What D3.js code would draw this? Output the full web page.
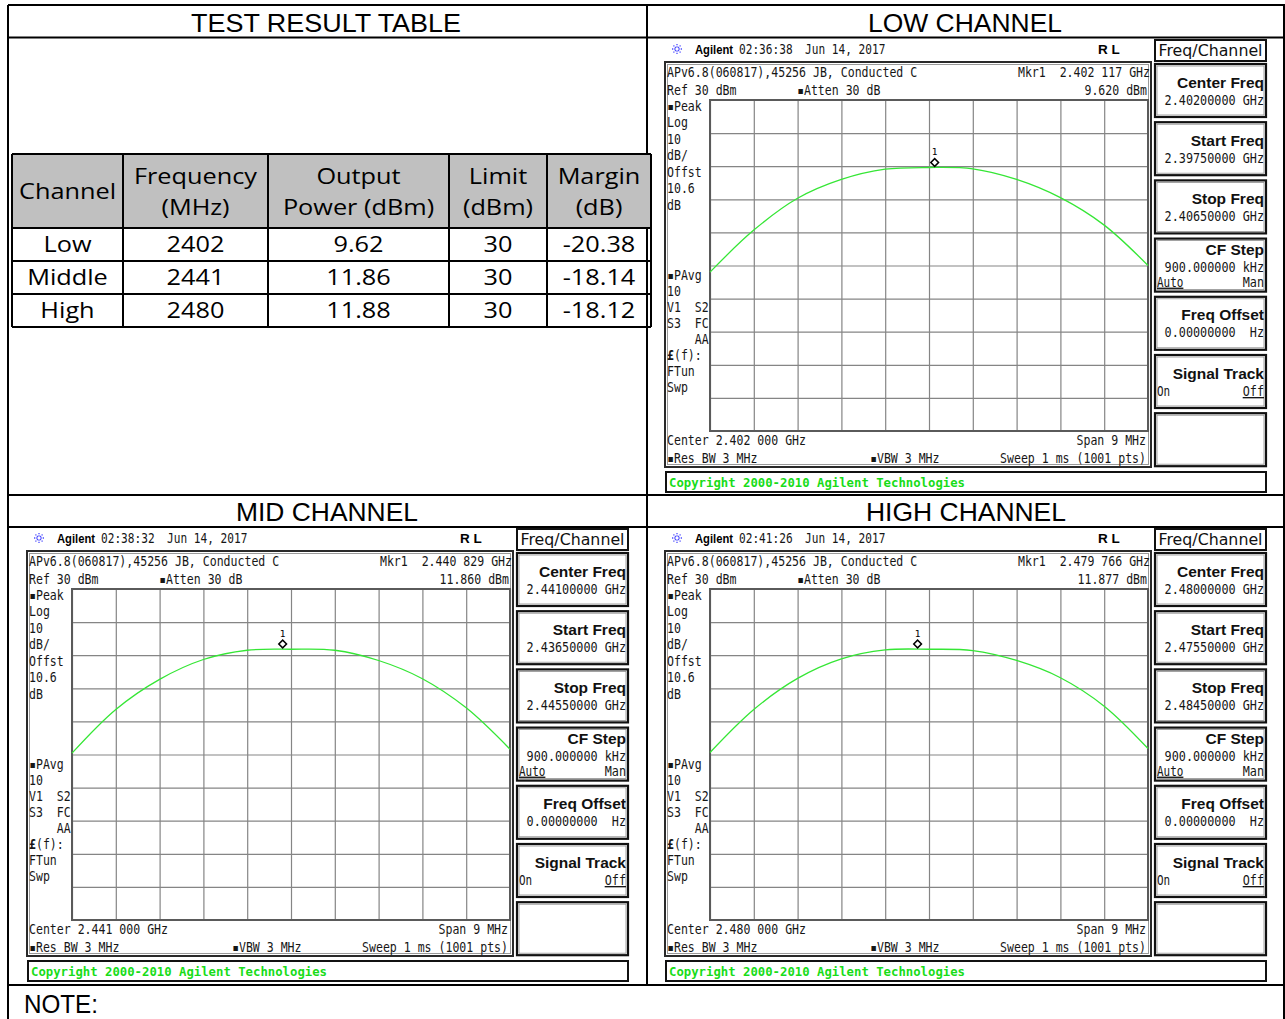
<!DOCTYPE html>
<html>
<head>
<meta charset="utf-8">
<title>Conducted Output Power - Test Result</title>
<script src="https://d3js.org/d3.v7.min.js"></script>
<style>
  body, html { margin: 0; padding: 0; background: #fff; }
  svg { display: block; }
  .mono { font-family: 'DejaVu Sans Mono', monospace; font-size: 13.5px; white-space: pre; fill: #161616; }
  .title { font-family: 'Liberation Sans', Arial, sans-serif; font-size: 25px; fill: #000; }
  .cell { font-family: 'Open Sans', sans-serif; font-size: 22px; fill: #000; }
  .btn { font-family: 'Liberation Sans', Arial, sans-serif; font-weight: bold; font-size: 15.5px; fill: #111; }
</style>
</head>
<body>
<script>
// ---- table data ----
const channels = ["Low", "Middle", "High"];
const freqMHz = [2402, 2441, 2480];
const outputPower = [9.62, 11.86, 11.88];
const limitDbm = [30, 30, 30];
const marginDb = [-20.38, -18.14, -18.12];

// ---- analyzer screens ----
const panelTitles = ["LOW CHANNEL", "MID CHANNEL", "HIGH CHANNEL"];
const centerGHz = [2.402, 2.441, 2.480];
const timeStamps = ["02:36:38", "02:38:32", "02:41:26"];
const markerGHz = [2.402117, 2.440829, 2.479766];
const markerFreqText = ["2.402 117 GHz", "2.440 829 GHz", "2.479 766 GHz"];
const markerDbm = [9.620, 11.860, 11.877];
const markerLevelText = ["9.620 dBm", "11.860 dBm", "11.877 dBm"];
const centerText = ["2.402 000 GHz", "2.441 000 GHz", "2.480 000 GHz"];
const centerFreqBtn = ["2.40200000 GHz", "2.44100000 GHz", "2.48000000 GHz"];
const startFreqBtn = ["2.39750000 GHz", "2.43650000 GHz", "2.47550000 GHz"];
const stopFreqBtn = ["2.40650000 GHz", "2.44550000 GHz", "2.48450000 GHz"];
const spanMHz = 9;
const refLevel = 30;

// trace levels (dBm) read at each vertical graticule line, -4.5 .. +4.5 MHz
const traceLow  = [-22.0, -9.3, 0.3, 6.0, 9.1, 9.6, 9.2, 6.0, 0.5, -7.8, -20.0];
const traceMid  = [-19.6, -6.4, 2.7, 8.7, 11.5, 11.8, 11.5, 8.4, 2.9, -5.9, -18.4];
const traceHigh = [-19.4, -6.4, 3.0, 8.9, 11.6, 11.8, 11.4, 8.4, 3.2, -5.4, -18.2];
const traces = [traceLow, traceMid, traceHigh];

const W = 1285, H = 1019;
const CH = 6.95;   // analyzer character pitch

const svg = d3.select("body").append("svg")
    .attr("width", W)
    .attr("height", H)
    .attr("viewBox", [0, 0, W, H]);

function mono(g, x, y, s, anchor, pitch) {
    return g.append("text")
        .attr("class", "mono")
        .attr("x", x).attr("y", y)
        .attr("text-anchor", anchor || "start")
        .attr("textLength", s.length * (pitch || CH))
        .attr("lengthAdjust", "spacingAndGlyphs")
        .text(s);
}

function title(x, y, s, w, anchor) {
    svg.append("text").attr("class", "title")
        .attr("x", x).attr("y", y)
        .attr("text-anchor", anchor || "middle")
        .attr("textLength", w).attr("lengthAdjust", "spacingAndGlyphs")
        .text(s);
}

// ---- outer frame ----
const frame = svg.append("g").attr("stroke", "#000").attr("stroke-width", 2);
[[8, 5, 1285, 5], [8, 37.5, 1285, 37.5], [8, 495, 1285, 495], [8, 527, 1285, 527],
 [8, 985, 1285, 985], [8, 5, 8, 1019], [647, 5, 647, 985], [1284, 5, 1284, 1019]]
    .forEach(l => frame.append("line").attr("x1", l[0]).attr("y1", l[1]).attr("x2", l[2]).attr("y2", l[3]));

title(326, 32, "TEST RESULT TABLE", 270);
title(965, 32, panelTitles[0], 194);
title(327, 521, panelTitles[1], 182);
title(966, 521, panelTitles[2], 200);
title(24, 1013, "NOTE:", 74, "start");

// ---- result table ----
const colEdges = [12, 123, 268, 449, 547, 651];
const rowEdges = [154, 228, 261, 294, 327];
const table = svg.append("g");
table.append("rect")
    .attr("x", colEdges[0]).attr("y", rowEdges[0])
    .attr("width", colEdges[5] - colEdges[0]).attr("height", rowEdges[1] - rowEdges[0])
    .attr("fill", "#c0c0c0");
const tl = table.append("g").attr("stroke", "#000").attr("stroke-width", 2);
colEdges.forEach(x => tl.append("line").attr("x1", x).attr("x2", x).attr("y1", rowEdges[0]).attr("y2", rowEdges[4]));
rowEdges.forEach(y => tl.append("line").attr("x1", colEdges[0]).attr("x2", colEdges[5]).attr("y1", y).attr("y2", y));

function cell(col, y, s) {
    const cx = (colEdges[col] + colEdges[col + 1]) / 2;
    table.append("text").attr("class", "cell")
        .attr("text-anchor", "middle")
        .attr("transform", `translate(${cx},${y}) scale(1.15,1)`)
        .text(s);
}
const headTop = ["Frequency", "Output", "Limit", "Margin"];
const headBottom = ["(MHz)", "Power (dBm)", "(dBm)", "(dB)"];
cell(0, 199, "Channel");
headTop.forEach((s, k) => cell(k + 1, 184, s));
headBottom.forEach((s, k) => cell(k + 1, 215, s));
channels.forEach((c, r) => {
    const y = rowEdges[r + 1] + 24;
    cell(0, y, c);
    cell(1, y, String(freqMHz[r]));
    cell(2, y, outputPower[r].toFixed(2));
    cell(3, y, String(limitDbm[r]));
    cell(4, y, marginDb[r].toFixed(2));
});

// ---- analyzer panel ----
const origins = [[665, 40], [27, 529], [665, 529]];

function drawPanel(i) {
    const [ox, oy] = origins[i];
    const g = svg.append("g").attr("transform", `translate(${ox},${oy})`);

    // header row
    const star = g.append("g").attr("transform", "translate(12,9)")
        .attr("stroke", "#4d4dff").attr("stroke-width", 1.3);
    d3.range(8).forEach(k => {
        const a = k * Math.PI / 4;
        star.append("line").attr("x1", 1.5 * Math.cos(a)).attr("y1", 1.5 * Math.sin(a))
            .attr("x2", 5.5 * Math.cos(a)).attr("y2", 5.5 * Math.sin(a))
            .attr("stroke-dasharray", "1.3 0.9");
    });
    g.append("text").attr("x", 30).attr("y", 13.5)
        .style("font", "bold 12px 'Liberation Sans', Arial, sans-serif")
        .attr("textLength", 38).attr("lengthAdjust", "spacingAndGlyphs")
        .text("Agilent");
    mono(g, 74, 13.5, timeStamps[i], "start", 6.7);
    mono(g, 140, 13.5, "Jun 14, 2017", "start", 6.7);
    g.append("text").attr("x", 433).attr("y", 14)
        .style("font", "bold 13.5px 'Liberation Sans', Arial, sans-serif")
        .text("R L");

    // Freq/Channel title box
    g.append("rect").attr("x", 490).attr("y", 0).attr("width", 111).attr("height", 21)
        .attr("fill", "none").attr("stroke", "#111").attr("stroke-width", 2);
    g.append("text").attr("x", 545.5).attr("y", 16).attr("text-anchor", "middle")
        .style("font", "15px 'DejaVu Sans', sans-serif").style("fill", "#111")
        .attr("textLength", 104).attr("lengthAdjust", "spacingAndGlyphs")
        .text("Freq/Channel");

    // display box
    g.append("rect").attr("x", 0).attr("y", 22).attr("width", 486).attr("height", 405)
        .attr("fill", "none").attr("stroke", "#2a2a2a").attr("stroke-width", 2);
    g.append("rect").attr("x", 2.5).attr("y", 24.5).attr("width", 481).attr("height", 400)
        .attr("fill", "none").attr("stroke", "#9a9a9a").attr("stroke-width", 1);

    mono(g, 2, 37, "APv6.8(060817),45256 JB, Conducted C");
    mono(g, 485, 37, "Mkr1  " + markerFreqText[i], "end");
    mono(g, 2, 55, "Ref 30 dBm");
    mono(g, 132, 55, "\u25aaAtten 30 dB");
    mono(g, 482, 55, markerLevelText[i], "end");

    const leftTop = ["\u25aaPeak", "Log", "10", "dB/", "Offst", "10.6", "dB"];
    const leftBottom = ["\u25aaPAvg", "10", "V1  S2", "S3  FC", "    AA", "\u00a3(f):", "FTun", "Swp"];
    leftTop.forEach((s, k) => mono(g, 2, 70.5 + k * 16.5, s));
    leftBottom.forEach((s, k) => {
        const t = mono(g, 2, 239.5 + k * 16.1, s);
        if (s[0] === "\u00a3") {
            t.text(null);
            t.append("tspan").style("font-weight", "bold").text("\u00a3");
            t.append("tspan").text(s.slice(1));
        }
    });

    mono(g, 2, 404.5, "Center " + centerText[i]);
    mono(g, 481, 404.5, "Span 9 MHz", "end");
    mono(g, 2, 422.5, "\u25aaRes BW 3 MHz");
    mono(g, 205, 422.5, "\u25aaVBW 3 MHz");
    mono(g, 481, 422.5, "Sweep 1 ms (1001 pts)", "end");

    // graticule
    const gx0 = 45, gx1 = 483, gy0 = 60, gy1 = 391;
    const c = centerGHz[i] * 1000;
    const freqs = d3.range(11).map(k => c - spanMHz / 2 + k * spanMHz / 10);
    const x = d3.scaleLinear().domain([c - spanMHz / 2, c + spanMHz / 2]).range([gx0, gx1]);
    const y = d3.scaleLinear().domain([refLevel - 100, refLevel]).range([gy1, gy0]);

    const grid = g.append("g");
    grid.append("g").attr("transform", `translate(0,${gy1})`)
        .call(d3.axisBottom(x).tickValues(freqs).tickSize(-(gy1 - gy0)).tickFormat(""))
        .call(a => a.select(".domain").remove())
        .selectAll("line").attr("stroke", "#858585").attr("stroke-width", 1.2);
    grid.append("g").attr("transform", `translate(${gx0},0)`)
        .call(d3.axisLeft(y).tickValues(d3.range(refLevel - 100, refLevel + 1, 10)).tickSize(-(gx1 - gx0)).tickFormat(""))
        .call(a => a.select(".domain").remove())
        .selectAll("line").attr("stroke", "#858585").attr("stroke-width", 1.2);
    grid.selectAll("text").remove();
    g.append("rect").attr("x", gx0).attr("y", gy0).attr("width", gx1 - gx0).attr("height", gy1 - gy0)
        .attr("fill", "none").attr("stroke", "#5a5a5a").attr("stroke-width", 2);

    // trace
    const line = d3.line()
        .x((d, k) => x(freqs[k]))
        .y(d => y(d))
        .curve(d3.curveCatmullRom.alpha(0.5));
    g.append("path").datum(traces[i])
        .attr("d", line)
        .attr("fill", "none")
        .attr("stroke", "#35e635")
        .attr("stroke-width", 1.3);

    // marker 1
    const mx = x(markerGHz[i] * 1000), my = y(markerDbm[i]);
    g.append("path")
        .attr("d", d3.symbol(d3.symbolSquare, 30)())
        .attr("transform", `translate(${mx},${my - 5}) rotate(45)`)
        .attr("fill", "#fff").attr("stroke", "#000").attr("stroke-width", 1.5);
    g.append("text").attr("x", mx).attr("y", my - 12).attr("text-anchor", "middle")
        .style("font", "9.5px 'DejaVu Sans Mono', monospace").text("1");

    // softkeys
    const keys = [
        { t: "Center Freq", tb: 24, lines: [{ s: centerFreqBtn[i], y: 41 }] },
        { t: "Start Freq", tb: 24, lines: [{ s: startFreqBtn[i], y: 41 }] },
        { t: "Stop Freq", tb: 24, lines: [{ s: stopFreqBtn[i], y: 41 }] },
        { t: "CF Step", tb: 16, lines: [{ s: "900.000000 kHz", y: 33 }, { s: "Auto", y: 48, left: true, u: true }, { s: "Man", y: 48 }] },
        { t: "Freq Offset", tb: 23, lines: [{ s: "0.00000000  Hz", y: 40 }] },
        { t: "Signal Track", tb: 24, lines: [{ s: "On", y: 41, left: true }, { s: "Off", y: 41, u: true }] },
        { t: "", tb: 0, lines: [] }
    ];
    keys.forEach((k, j) => {
        const top = 24 + j * 58.2;
        const kg = g.append("g").attr("transform", `translate(490,${top})`);
        kg.append("rect").attr("width", 111).attr("height", 53)
            .attr("fill", "#fff").attr("stroke", "#111").attr("stroke-width", 2.2);
        kg.append("rect").attr("x", 2).attr("y", 2).attr("width", 107).attr("height", 49)
            .attr("fill", "none").attr("stroke", "#8c8c8c").attr("stroke-width", 0.8);
        if (k.t) kg.append("text").attr("class", "btn").attr("x", 109).attr("y", k.tb)
            .attr("text-anchor", "end").text(k.t);
        k.lines.forEach(l => {
            const t = l.left ? mono(kg, 2, l.y, l.s, "start", 6.6) : mono(kg, 109, l.y, l.s, "end", 7.1);
            if (l.u) t.style("text-decoration", "underline");
        });
    });

    // copyright strip
    g.append("rect").attr("x", 1).attr("y", 432).attr("width", 600).attr("height", 20)
        .attr("fill", "#fff").attr("stroke", "#111").attr("stroke-width", 2);
    g.append("text").attr("x", 4).attr("y", 446.5)
        .style("font", "bold 13px 'DejaVu Sans Mono', monospace").style("fill", "#18dc18")
        .attr("textLength", 296).attr("lengthAdjust", "spacingAndGlyphs")
        .text("Copyright 2000-2010 Agilent Technologies");
}

[0, 1, 2].forEach(drawPanel);
</script>
</body>
</html>
